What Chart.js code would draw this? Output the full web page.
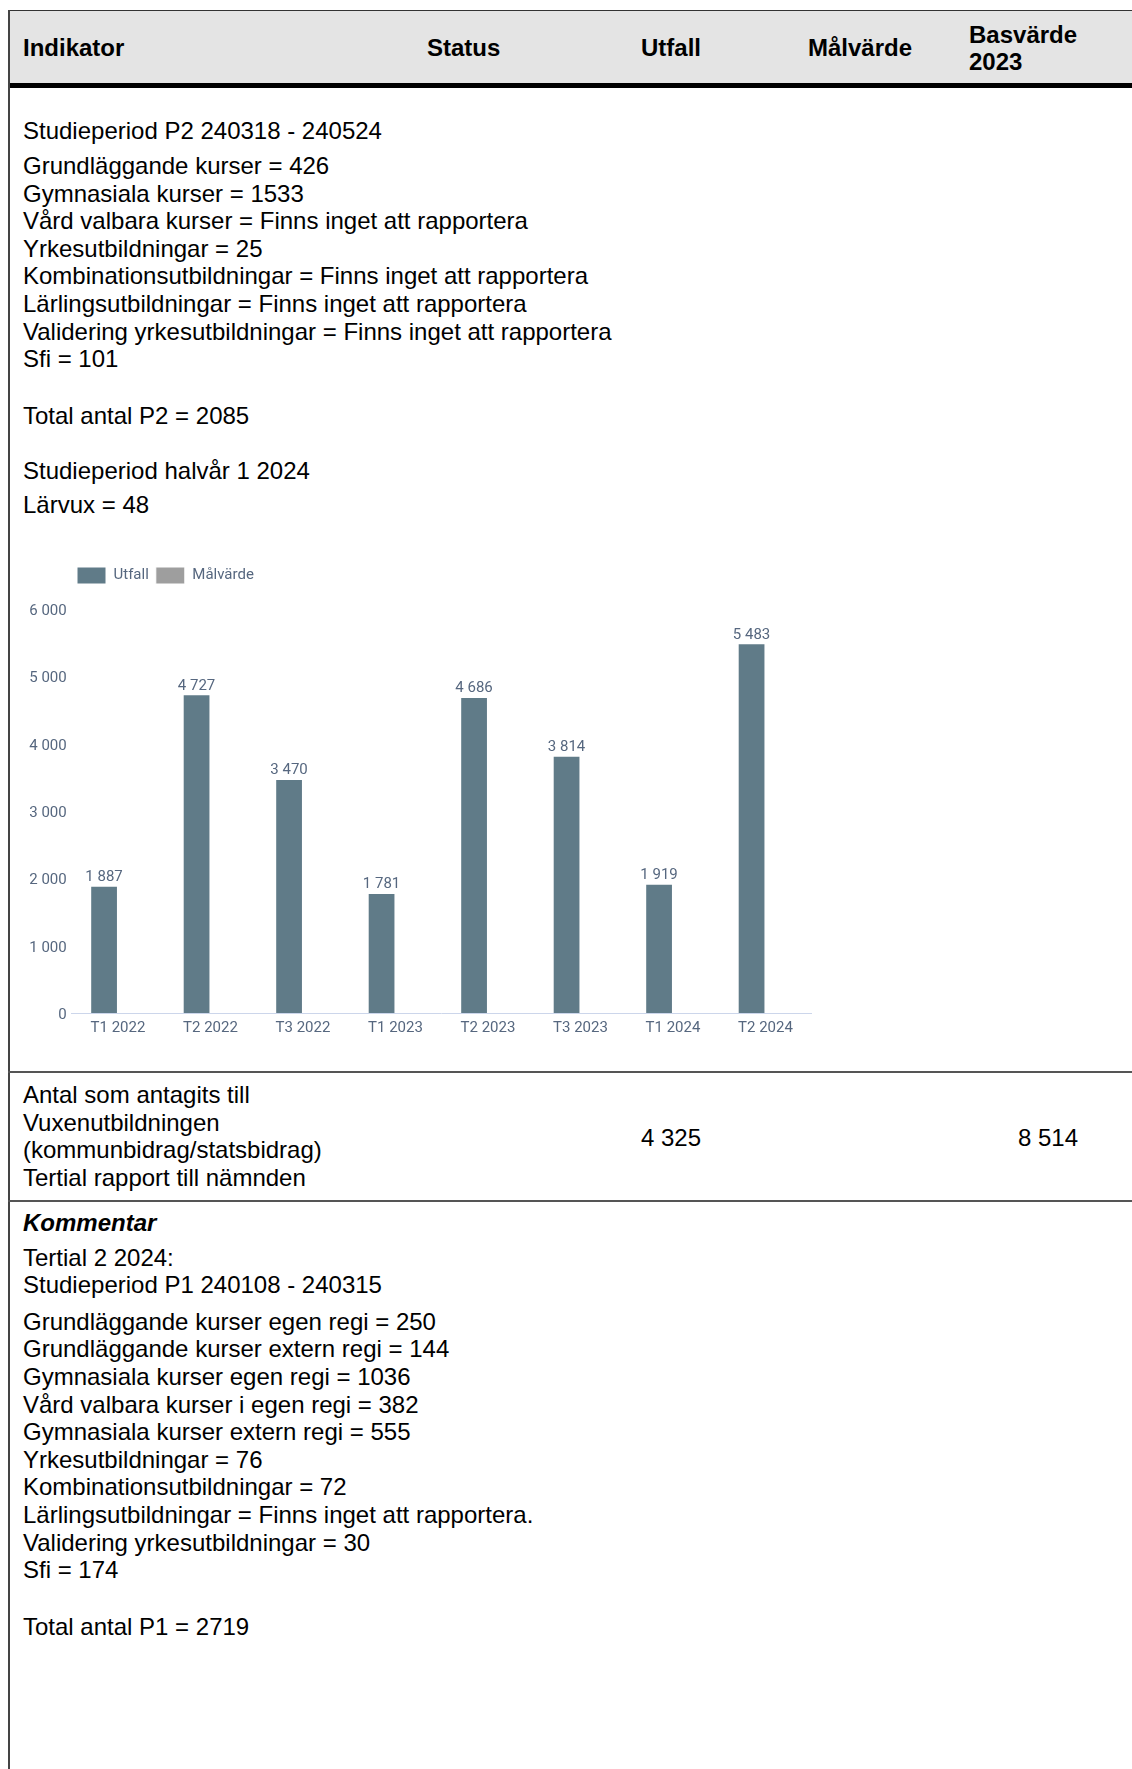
<!DOCTYPE html>
<html><head><meta charset="utf-8">
<script src="https://cdn.jsdelivr.net/npm/chart.js@4.4.1/dist/chart.umd.min.js"></script>
<style>
html,body{margin:0;padding:0;background:#fff;}
body{width:1132px;height:1769px;position:relative;overflow:hidden;font-family:"Liberation Sans",Arial,sans-serif;font-size:24px;color:#000;}
.t{position:absolute;white-space:nowrap;line-height:27.6px;}
.b{font-weight:bold;}
.bi{font-weight:bold;font-style:italic;}
.ln{position:absolute;}
#chartBox{position:absolute;left:10px;top:550px;width:820px;height:500px;}
</style></head>
<body>
<!-- table frame -->
<div class="ln" style="left:8px;top:10px;width:1124px;height:1px;background:#333;"></div>
<div class="ln" style="left:9px;top:11px;width:1123px;height:72px;background:#e4e4e4;"></div>
<div class="ln" style="left:8px;top:83px;width:1124px;height:5px;background:#000;"></div>
<div class="ln" style="left:8px;top:10px;width:2px;height:1759px;background:#444;"></div>
<div class="ln" style="left:8px;top:1071px;width:1124px;height:2px;background:#555;"></div>
<div class="ln" style="left:8px;top:1200px;width:1124px;height:2px;background:#555;"></div>

<!-- header -->
<div class="t b" style="left:23px;top:34px;">Indikator</div>
<div class="t b" style="left:427px;top:34px;">Status</div>
<div class="t b" style="left:641px;top:34px;">Utfall</div>
<div class="t b" style="left:808px;top:34px;">Målvärde</div>
<div class="t b" style="left:969px;top:21px;">Basvärde</div>
<div class="t b" style="left:969px;top:48px;">2023</div>

<!-- row 1 text -->
<div class="t" style="left:23px;top:117px;">Studieperiod P2 240318 - 240524</div>
<div class="t" style="left:23px;top:152px;">Grundläggande kurser = 426</div>
<div class="t" style="left:23px;top:179.6px;">Gymnasiala kurser = 1533</div>
<div class="t" style="left:23px;top:207.2px;">Vård valbara kurser = Finns inget att rapportera</div>
<div class="t" style="left:23px;top:234.8px;">Yrkesutbildningar = 25</div>
<div class="t" style="left:23px;top:262.4px;">Kombinationsutbildningar = Finns inget att rapportera</div>
<div class="t" style="left:23px;top:290px;">Lärlingsutbildningar = Finns inget att rapportera</div>
<div class="t" style="left:23px;top:317.6px;">Validering yrkesutbildningar = Finns inget att rapportera</div>
<div class="t" style="left:23px;top:345.2px;">Sfi = 101</div>
<div class="t" style="left:23px;top:401.5px;">Total antal P2 = 2085</div>
<div class="t" style="left:23px;top:456.8px;">Studieperiod halvår 1 2024</div>
<div class="t" style="left:23px;top:490.7px;">Lärvux = 48</div>

<div id="chartBox"><canvas id="c" width="820" height="500"></canvas></div>

<!-- row 2 -->
<div class="t" style="left:23px;top:1081px;">Antal som antagits till</div>
<div class="t" style="left:23px;top:1108.6px;">Vuxenutbildningen</div>
<div class="t" style="left:23px;top:1136.2px;">(kommunbidrag/statsbidrag)</div>
<div class="t" style="left:23px;top:1163.8px;">Tertial rapport till nämnden</div>
<div class="t" style="left:641px;top:1123.5px;">4 325</div>
<div class="t" style="right:54px;top:1123.5px;">8 514</div>

<!-- row 3 -->
<div class="t bi" style="left:23px;top:1208.5px;">Kommentar</div>
<div class="t" style="left:23px;top:1243.5px;">Tertial 2 2024:</div>
<div class="t" style="left:23px;top:1271.1px;">Studieperiod P1 240108 - 240315</div>
<div class="t" style="left:23px;top:1307.8px;">Grundläggande kurser egen regi = 250</div>
<div class="t" style="left:23px;top:1335.4px;">Grundläggande kurser extern regi = 144</div>
<div class="t" style="left:23px;top:1363px;">Gymnasiala kurser egen regi = 1036</div>
<div class="t" style="left:23px;top:1390.6px;">Vård valbara kurser i egen regi = 382</div>
<div class="t" style="left:23px;top:1418.2px;">Gymnasiala kurser extern regi = 555</div>
<div class="t" style="left:23px;top:1445.8px;">Yrkesutbildningar = 76</div>
<div class="t" style="left:23px;top:1473.4px;">Kombinationsutbildningar = 72</div>
<div class="t" style="left:23px;top:1501px;">Lärlingsutbildningar = Finns inget att rapportera.</div>
<div class="t" style="left:23px;top:1528.6px;">Validering yrkesutbildningar = 30</div>
<div class="t" style="left:23px;top:1556.2px;">Sfi = 174</div>
<div class="t" style="left:23px;top:1612.5px;">Total antal P1 = 2719</div>

<script>
const categories = ['T1 2022', 'T2 2022', 'T3 2022', 'T1 2023', 'T2 2023', 'T3 2023', 'T1 2024', 'T2 2024'];
const utfall = [1887, 4727, 3470, 1781, 4686, 3814, 1919, 5483];
const malvarde = [null, null, null, null, null, null, null, null];
const seriesNames = ['Utfall', 'Målvärde'];
const yMax = 6000;
const yStep = 1000;

const textColor = '#56677f';
const chartFont = {family: 'Roboto', size: 15, weight: '400'};
function fmt(v) { return String(v).replace(/\B(?=(\d{3})+(?!\d))/g, ' '); }

const legendSpacer = {
  id: 'legendSpacer',
  beforeLayout(chart) {
    const lg = chart.legend;
    if (lg && !lg._spaced) {
      const f = lg.fit;
      lg.fit = function () { f.call(this); this.height += 14.5; };
      lg._spaced = true;
    }
  },
  afterLayout(chart) {
    const lg = chart.legend;
    if (lg) { lg.left += 60; }
  }
};

const valueLabels = {
  id: 'valueLabels',
  afterDatasetsDraw(chart) {
    const ctx = chart.ctx;
    const meta = chart.getDatasetMeta(0);
    const data = chart.data.datasets[0].data;
    ctx.save();
    ctx.font = '400 15px Roboto';
    ctx.fillStyle = textColor;
    ctx.textAlign = 'center';
    ctx.textBaseline = 'middle';
    meta.data.forEach((el, i) => {
      if (data[i] == null) return;
      ctx.fillText(fmt(data[i]), el.x, el.y - 8.5);
    });
    ctx.restore();
  }
};

new Chart(document.getElementById('c'), {
  type: 'bar',
  data: {
    labels: categories,
    datasets: [
      {label: seriesNames[0], data: utfall, backgroundColor: '#607b88', borderColor: '#ffffff', borderWidth: 1, categoryPercentage: 0.6, barPercentage: 1},
      {label: seriesNames[1], data: malvarde, backgroundColor: '#9e9e9e', borderColor: '#ffffff', borderWidth: 1, categoryPercentage: 0.6, barPercentage: 1}
    ]
  },
  options: {
    responsive: false,
    animation: false,
    layout: {padding: {left: 0, right: 18.3, top: 10, bottom: 6.4}},
    plugins: {
      legend: {
        display: true, position: 'top', align: 'start',
        labels: {boxWidth: 29, boxHeight: 17, padding: 7, color: textColor, font: chartFont}
      },
      tooltip: {enabled: false}
    },
    scales: {
      x: {
        grid: {display: false, drawTicks: false},
        border: {display: true, color: '#ccd6eb', width: 1},
        ticks: {color: textColor, font: chartFont, padding: 6.3, maxRotation: 0, autoSkip: false}
      },
      y: {
        min: 0, max: yMax,
        grid: {display: false, drawTicks: false},
        border: {display: false},
        ticks: {stepSize: yStep, color: textColor, font: chartFont, padding: 5, labelOffset: 2.5, callback: (v) => fmt(v)},
        afterFit(s) { s.width = 61.7; }
      }
    }
  },
  plugins: [legendSpacer, valueLabels]
});
</script>
</body></html>
